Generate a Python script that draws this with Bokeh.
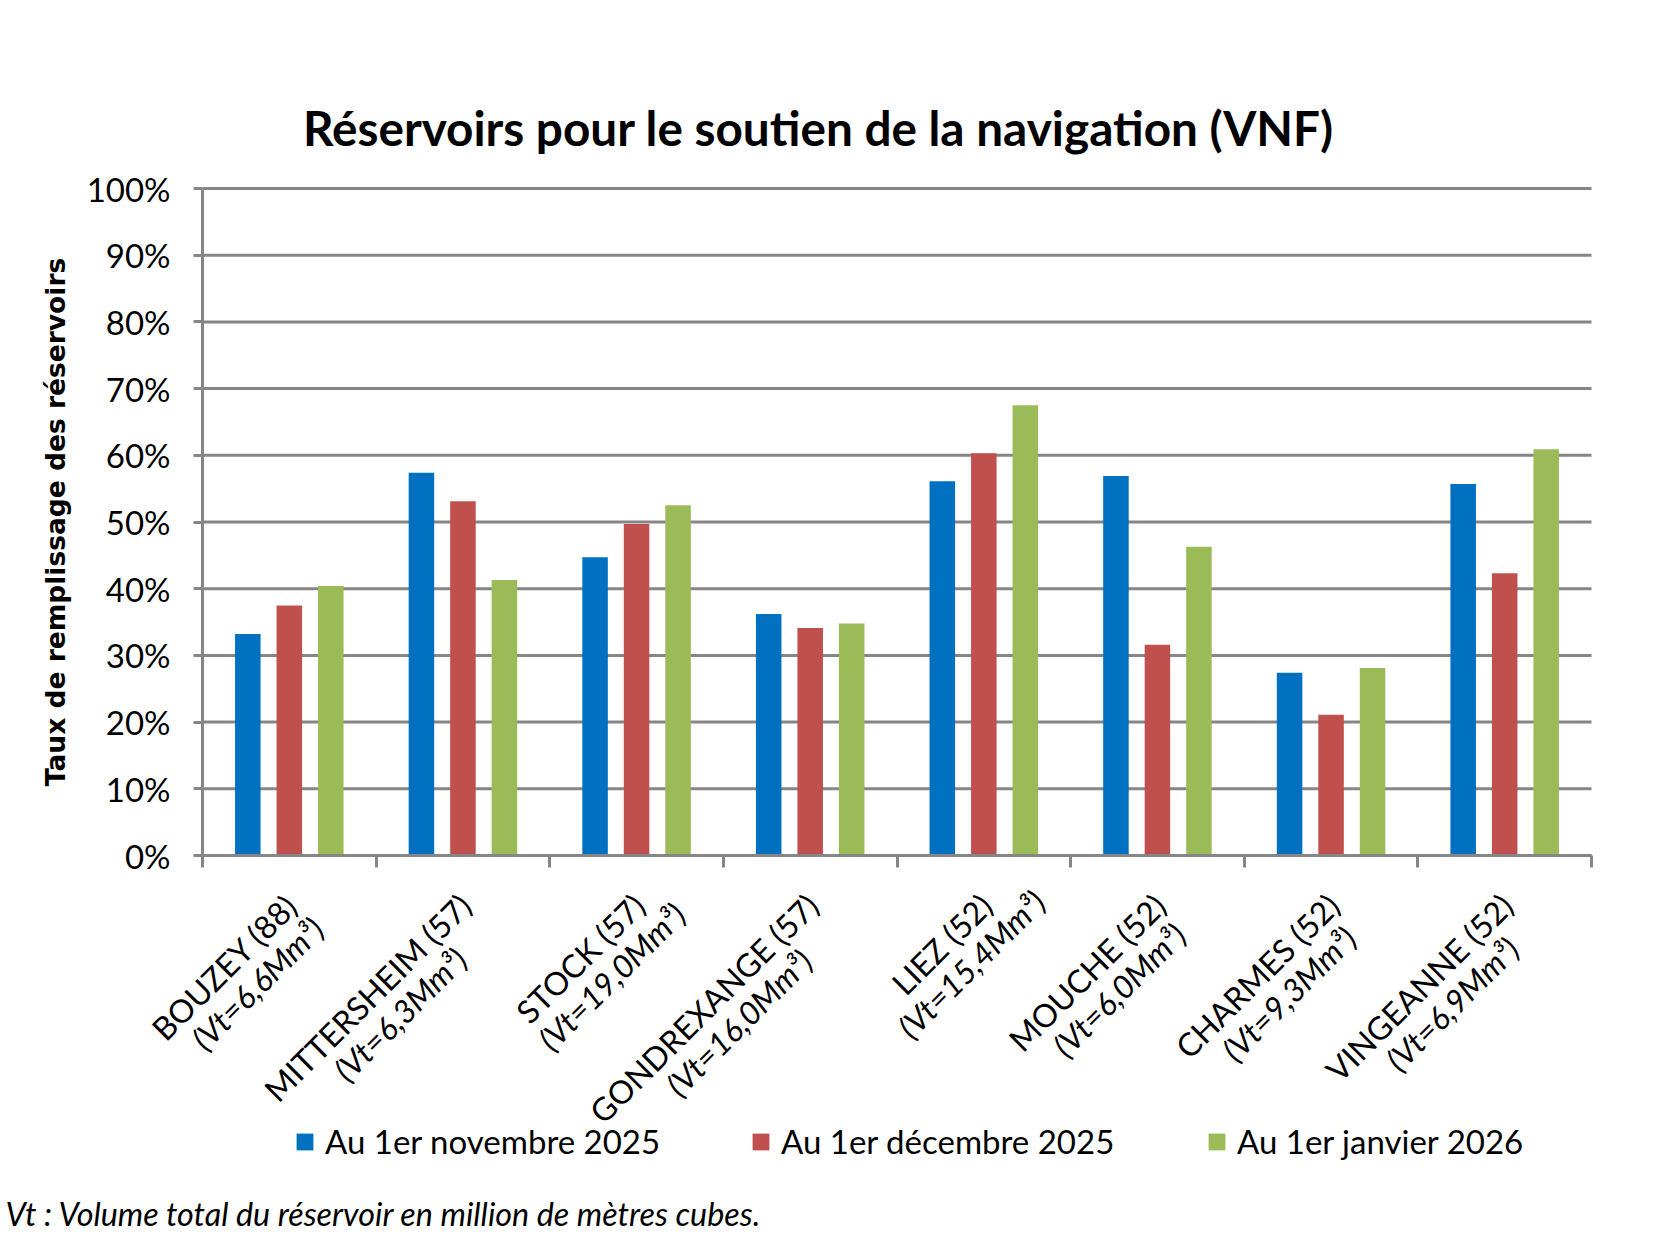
import numpy as np
from bokeh.plotting import figure
from bokeh.models import (ColumnDataSource, FixedTicker, Range1d, LabelSet, Label,
                          Legend, LegendItem, LinearAxis)
from bokeh.core.properties import value
from bokeh.embed import file_html
from bokeh.resources import INLINE

# ---------------- data ----------------
reservoirs = ["BOUZEY (88)", "MITTERSHEIM (57)", "STOCK (57)", "GONDREXANGE (57)",
              "LIEZ (52)", "MOUCHE (52)", "CHARMES (52)", "VINGEANNE (52)"]
volumes = ["(Vt=6,6Mm³)", "(Vt=6,3Mm³)", "(Vt=19,0Mm³)", "(Vt=16,0Mm³)",
           "(Vt=15,4Mm³)", "(Vt=6,0Mm³)", "(Vt=9,3Mm³)", "(Vt=6,9Mm³)"]
series_names = ["Au 1er novembre 2025", "Au 1er décembre 2025", "Au 1er janvier 2026"]
nov_2025 = [0.332, 0.574, 0.447, 0.362, 0.561, 0.569, 0.274, 0.557]
dec_2025 = [0.375, 0.531, 0.497, 0.341, 0.603, 0.316, 0.211, 0.423]
jan_2026 = [0.404, 0.413, 0.525, 0.348, 0.675, 0.463, 0.281, 0.609]
y_ticks = [0.0, 0.1, 0.2, 0.3, 0.4, 0.5, 0.6, 0.7, 0.8, 0.9, 1.0]
y_tick_labels = ["0%", "10%", "20%", "30%", "40%", "50%", "60%", "70%", "80%", "90%", "100%"]
title_text = "Réservoirs pour le soutien de la navigation (VNF)"
y_title = "Taux de remplissage des réservoirs"
footnote = "Vt : Volume total du réservoir en million de mètres cubes."

colors = ["#0070C0", "#C0504D", "#9BBB59"]
GRID = "#868686"

# ---------------- layout (pixel geometry of the canvas) ----------------
W, H = 1651, 1234
n = len(reservoirs)
FL, FR, FT, FB = 202, 1591, 188, 855          # plot-area edges in canvas pixels
PXU = (FR - FL) / n                           # pixels per category
PYU = (FB - FT) / 1.0                         # pixels per unit of fill rate


def px2x(px):
    return (px - FL) / PXU


def px2y(py):
    return (FB - py) / PYU


p = figure(width=W, height=H, x_range=Range1d(px2x(0), px2x(W)),
           y_range=Range1d(px2y(H), px2y(0)), x_axis_type=None, y_axis_type=None,
           output_backend="svg", toolbar_location=None,
           min_border_left=0, min_border_right=0, min_border_top=0, min_border_bottom=0)
p.outline_line_color = None
p.background_fill_color = "white"
p.border_fill_color = "white"
p.grid.visible = False

# gridlines (only across the plot area)
p.segment(x0=[0] * len(y_ticks), x1=[n] * len(y_ticks), y0=y_ticks, y1=y_ticks,
          line_color=GRID, line_width=3)

# y axis
yaxis = LinearAxis(fixed_location=0, bounds=(0, 1), ticker=FixedTicker(ticks=y_ticks),
                   major_label_overrides={t: l for t, l in zip(y_ticks, y_tick_labels)})
yaxis.major_label_text_font = "Lato"
yaxis.major_label_text_font_size = "33px"
yaxis.major_label_text_color = "black"
yaxis.major_tick_in = 0
yaxis.major_tick_out = 9
yaxis.minor_tick_line_color = None
yaxis.major_tick_line_color = GRID
yaxis.major_tick_line_width = 3
yaxis.axis_line_color = GRID
yaxis.axis_line_width = 3
yaxis.major_label_standoff = 23
yaxis.axis_label = y_title
yaxis.axis_label_text_font = "DejaVu Sans"
yaxis.axis_label_text_font_style = "bold"
yaxis.axis_label_text_font_size = "26.5px"
yaxis.axis_label_text_color = "black"
yaxis.axis_label_standoff = 13
p.add_layout(yaxis, "left")

# x axis (tick marks between categories, labels drawn separately below)
xaxis = LinearAxis(fixed_location=0, bounds=(0, n), ticker=FixedTicker(ticks=list(range(n + 1))))
xaxis.major_label_text_color = None
xaxis.major_tick_in = 0
xaxis.major_tick_out = 12
xaxis.minor_tick_line_color = None
xaxis.major_tick_line_color = GRID
xaxis.major_tick_line_width = 3
xaxis.axis_line_color = GRID
xaxis.axis_line_width = 3
p.add_layout(xaxis, "below")

# bars
centers = np.arange(n) + 0.5
offsets = [-0.239, 0.0, 0.239]
bar_w = 0.147
renderers = []
for vals, off, col in zip([nov_2025, dec_2025, jan_2026], offsets, colors):
    src = ColumnDataSource(dict(x=centers + off, top=vals))
    r = p.vbar(x="x", top="top", width=bar_w, bottom=0, source=src,
               fill_color=col, line_color=None)
    renderers.append(r)

# category labels (two lines, rotated 45 degrees, second line centred on the first)
# approximate glyph advances (em) used only to centre the two lines on each other
EM = {"A": .579, "B": .544, "C": .533, "D": .615, "E": .488, "G": .631, "H": .623,
      "I": .252, "K": .520, "L": .420, "M": .855, "N": .646, "O": .662, "R": .543,
      "S": .459, "T": .487, "U": .653, "V": .579, "X": .519, "Y": .487, "Z": .504,
      "(": .303, ")": .303, " ": .226, ",": .250, "=": .498, "t": .335, "m": .799, "³": .35}
for d in "0123456789":
    EM[d] = .507


def tw(s, size):
    return sum(EM.get(ch, .5) for ch in s) * size


FS = 32
CAL = 35
LINE_GAP = 35
TOP_TO_BASE = 24
A_DX, A_DY = -6, 36
k = np.sqrt(0.5)
xo1, yo1, xo2, yo2 = [], [], [], []
for name, vol in zip(reservoirs, volumes):
    w1, w2 = tw(name, CAL), tw(vol, CAL)
    bx1 = A_DX + TOP_TO_BASE * k
    by1 = A_DY + TOP_TO_BASE * k
    sh = (w2 - w1) / 2
    bx2 = bx1 + LINE_GAP * k + sh * k
    by2 = by1 + LINE_GAP * k - sh * k
    xo1.append(bx1); yo1.append(-by1)
    xo2.append(bx2); yo2.append(-by2)

lab_src = ColumnDataSource(dict(x=centers, y=np.zeros(n), t1=reservoirs, t2=volumes,
                                xo1=xo1, yo1=yo1, xo2=xo2, yo2=yo2))
p.add_layout(LabelSet(x="x", y="y", text="t1", source=lab_src, x_offset="xo1", y_offset="yo1",
                      angle=np.pi / 4, text_align="right", text_baseline="alphabetic",
                      text_font=value("Lato"), text_font_size=f"{FS}px", text_color="black"))
p.add_layout(LabelSet(x="x", y="y", text="t2", source=lab_src, x_offset="xo2", y_offset="yo2",
                      angle=np.pi / 4, text_align="right", text_baseline="alphabetic",
                      text_font=value("Lato"), text_font_style="italic",
                      text_font_size=f"{FS}px", text_color="black"))

# title
p.add_layout(Label(x=px2x(818), y=px2y(127), text=title_text,
                   text_align="center", text_baseline="middle", text_font="Lato",
                   text_font_style="bold", text_font_size="47.7px", text_color="black"))

# footnote
p.add_layout(Label(x=px2x(5), y=px2y(1213), text=footnote,
                   text_align="left", text_baseline="middle", text_font="Lato",
                   text_font_style="italic", text_font_size="32.3px", text_color="black"))

# legend
legend = Legend(items=[LegendItem(label=s, renderers=[r]) for s, r in zip(series_names, renderers)],
                orientation="horizontal", location=(294, H - 1141 - 20), padding=0, margin=0,
                spacing=0, glyph_width=21, glyph_height=21, label_standoff=10, label_width=425,
                label_text_font="Lato", label_text_font_size="33px", label_text_color="black",
                border_line_color=None, background_fill_alpha=0)
p.add_layout(legend, "center")

open("out.html", "w").write(file_html(p, INLINE))
